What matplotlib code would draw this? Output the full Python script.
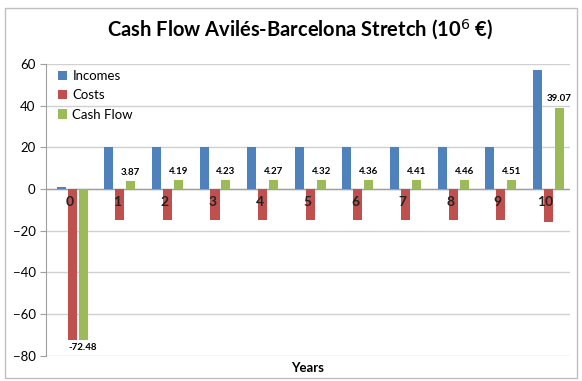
import matplotlib
matplotlib.use("Agg")
import matplotlib.pyplot as plt
import numpy as np
from matplotlib.patches import Rectangle

years = ["0", "1", "2", "3", "4", "5", "6", "7", "8", "9", "10"]
incomes = [0.8, 20.0, 20.2, 20.2, 20.3, 20.3, 20.3, 20.3, 20.4, 20.4, 57.0]
costs = [-72.5, -15.0, -15.0, -15.0, -15.0, -15.0, -15.0, -15.0, -15.0, -15.0, -16.0]
cash_flow = [-72.48, 3.87, 4.19, 4.23, 4.27, 4.32, 4.36, 4.41, 4.46, 4.51, 39.07]
cash_labels = ["-72.48", "3.87", "4.19", "4.23", "4.27", "4.32", "4.36", "4.41", "4.46", "4.51", "39.07"]

C_BLUE = "#4F81BD"
C_RED = "#C0504D"
C_GREEN = "#9BBB59"

plt.rcParams['font.family'] = ['Lato', 'DejaVu Sans']

fig = plt.figure(figsize=(5.82, 3.81), dpi=100)
fig.patches.append(Rectangle((5/582, 3/381), 572/582, 370/381, transform=fig.transFigure,
                             fill=False, edgecolor="#bfbfbf", linewidth=1.0))
ax = fig.add_axes([0.079, 0.066, 0.9, 0.766])

x = np.arange(len(years))
w = 0.19
off = 0.23
ax.bar(x - off, incomes, w, color=C_BLUE, label="Incomes", zorder=3)
ax.bar(x, costs, w, color=C_RED, label="Costs", zorder=3)
ax.bar(x + off, cash_flow, w, color=C_GREEN, label="Cash Flow", zorder=3)

for xi, v, lab in zip(x, cash_flow, cash_labels):
    if v >= 0:
        ax.text(xi + off, v + 2, lab, ha="center", va="bottom", fontsize=7, fontweight="bold", zorder=5)
    else:
        ax.text(xi + off, v - 1.5, lab, ha="center", va="top", fontsize=7, fontweight="bold", zorder=5)

# category labels sit just under the zero line, over the bars
for xi, lab in zip(x, years):
    ax.text(xi - 0.06, -3.5, lab, ha="center", va="top", fontsize=10, fontweight="bold",
            color="#222222", zorder=6)

ax.set_ylim(-80, 60)
ax.set_yticks(np.arange(-80, 61, 20))
ax.set_xlim(-0.55, 10.45)
ax.set_xticks(x)
ax.set_xticklabels([])
ax.tick_params(axis="x", length=0)
ax.tick_params(axis="y", labelsize=9.5, length=4, color="#a0a0a0")
ax.yaxis.grid(True, color="#d0d0d0", linewidth=1.0, zorder=0)
ax.axhline(0, color="#a0a0a0", linewidth=1.0, zorder=2)
for s in ["top", "right", "bottom"]:
    ax.spines[s].set_visible(False)
ax.spines["left"].set_color("#a0a0a0")

ax.set_xlabel("Years", fontsize=9.5, fontweight="bold", labelpad=1)
fig.text(0.515, 0.922, "Cash Flow Avilés-Barcelona Stretch (10$^6$ €)", ha="center", va="center",
         fontsize=14.5, fontweight="bold")

leg = ax.legend(loc="upper left", bbox_to_anchor=(0.0, 1.02), frameon=False, fontsize=9.5,
                handlelength=0.7, handleheight=0.7, labelspacing=0.55, handletextpad=0.4)

fig.savefig("out.png", dpi=100)
